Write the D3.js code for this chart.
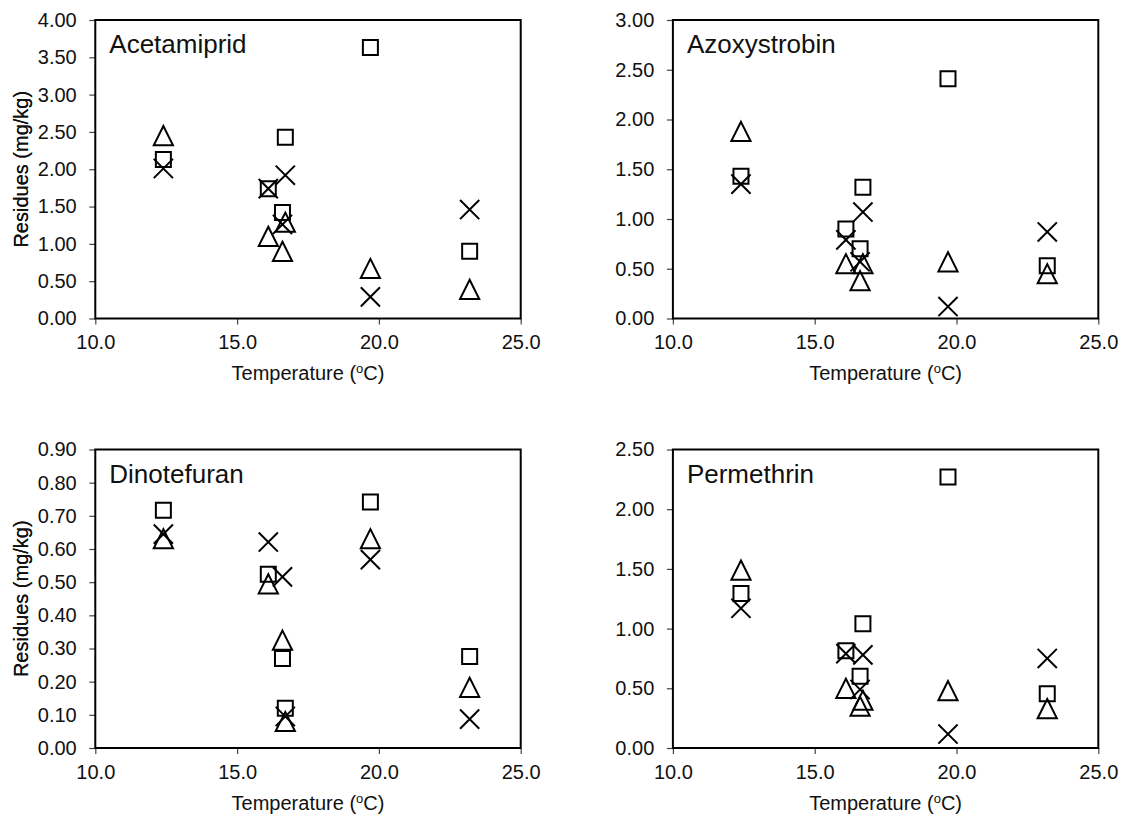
<!DOCTYPE html>
<html>
<head>
<meta charset="utf-8">
<script src="https://cdn.jsdelivr.net/npm/d3@7"></script>
<style>
  html, body { margin: 0; padding: 0; background: #fff; }
  svg { display: block; font-family: "Liberation Sans", Arial, sans-serif; }
</style>
</head>
<body>
<svg id="chart" width="1128" height="819"></svg>
<script>
// Sampling temperatures (°C) shared by every panel
const temperatures = [12.4, 16.1, 16.6, 16.7, 19.7, 23.2];

// Residues (mg/kg) per compound; three sample series each (square, cross, triangle markers)
const acetamipridSquare   = [2.13, 1.74, 1.42, 2.43, 3.63, 0.90];
const acetamipridCross    = [2.01, 1.74, 1.26, 1.92, 0.29, 1.46];
const acetamipridTriangle = [2.45, 1.10, 0.90, 1.29, 0.67, 0.39];

const azoxystrobinSquare   = [1.43, 0.90, 0.70, 1.32, 2.41, 0.53];
const azoxystrobinCross    = [1.35, 0.79, 0.57, 1.07, 0.12, 0.87];
const azoxystrobinTriangle = [1.88, 0.55, 0.38, 0.55, 0.57, 0.45];

const dinotefuranSquare   = [0.717, 0.524, 0.27, 0.12, 0.742, 0.276];
const dinotefuranCross    = [0.645, 0.621, 0.516, 0.095, 0.568, 0.087];
const dinotefuranTriangle = [0.631, 0.495, 0.325, 0.08, 0.631, 0.183];

const permethrinSquare   = [1.295, 0.815, 0.60, 1.04, 2.27, 0.454];
const permethrinCross    = [1.17, 0.79, 0.49, 0.78, 0.117, 0.75];
const permethrinTriangle = [1.49, 0.50, 0.35, 0.40, 0.48, 0.33];

// Axis ranges and tick values
const xDomain = [10, 25];
const xTicks = [10, 15, 20, 25];
const compounds = ["Acetamiprid", "Azoxystrobin", "Dinotefuran", "Permethrin"];
const yMaxima = [4.0, 3.0, 0.9, 2.5];
const yTickSteps = [0.5, 0.5, 0.1, 0.5];
const xAxisTitle = "Temperature (";
const yAxisTitle = "Residues (mg/kg)";

const panelData = [
  [acetamipridSquare, acetamipridCross, acetamipridTriangle],
  [azoxystrobinSquare, azoxystrobinCross, azoxystrobinTriangle],
  [dinotefuranSquare, dinotefuranCross, dinotefuranTriangle],
  [permethrinSquare, permethrinCross, permethrinTriangle]
];

// ---- layout ----
const plotW = 425.4, plotH = 298.5;
const lefts = [95.3, 672.9];
const tops = [20, 449.5];
const svg = d3.select("#chart");

function markerPath(kind) {
  if (kind === 0) { const s = 7.5; return `M${-s},${-s}H${s}V${s}H${-s}Z`; }
  if (kind === 1) { const s = 9.6; return `M${-s},${-s}L${s},${s}M${-s},${s}L${s},${-s}`; }
  const h = 9.6; return `M0,${-h}L${h},${h}L${-h},${h}Z`;
}

compounds.forEach((name, i) => {
  const x0 = lefts[i % 2], y0 = tops[Math.floor(i / 2)];
  const g = svg.append("g").attr("transform", `translate(${x0},${y0})`);

  const x = d3.scaleLinear().domain(xDomain).range([0, plotW]);
  const y = d3.scaleLinear().domain([0, yMaxima[i]]).range([plotH, 0]);
  const yTicks = d3.range(0, yMaxima[i] + 1e-9, yTickSteps[i]);

  // axes
  const yAxis = g.append("g")
    .call(d3.axisLeft(y).tickValues(yTicks).tickFormat(d3.format(".2f")).tickSize(6).tickPadding(12.6));
  const xAxis = g.append("g").attr("transform", `translate(0,${plotH})`)
    .call(d3.axisBottom(x).tickValues(xTicks).tickFormat(d3.format(".1f")).tickSize(6).tickPadding(10.5));
  [xAxis, yAxis].forEach(a => {
    a.select(".domain").remove();
    a.selectAll(".tick line").attr("stroke", "#444").attr("stroke-width", 1.2);
    a.selectAll(".tick text").attr("fill", "#111").style("font-size", "20px")
      .style("font-family", "'Liberation Sans', Arial, sans-serif");
  });

  // frame
  g.append("rect").attr("x", 0).attr("y", 0).attr("width", plotW).attr("height", plotH)
    .attr("fill", "none").attr("stroke", "#000").attr("stroke-width", 2);

  // panel title
  g.append("text").attr("x", 14).attr("y", 33).text(name)
    .attr("fill", "#111").style("font-size", "26px");

  // axis titles
  const xt = g.append("text").attr("x", plotW / 2).attr("y", plotH + 61.5)
    .attr("text-anchor", "middle").attr("fill", "#111").style("font-size", "20px");
  xt.append("tspan").text(xAxisTitle);
  xt.append("tspan").text("o").style("font-size", "13px").attr("dy", -7);
  xt.append("tspan").text("C)").attr("dy", 7);

  g.append("text")
    .attr("transform", `translate(${27.5 - x0},${plotH / 2}) rotate(-90)`)
    .attr("text-anchor", "middle").attr("fill", "#111").style("font-size", "20px")
    .text(yAxisTitle);

  // markers
  panelData[i].forEach((series, k) => {
    g.append("g").selectAll("path").data(series).join("path")
      .attr("transform", (v, j) => `translate(${x(temperatures[j])},${y(v)})`)
      .attr("d", markerPath(k))
      .attr("fill", "none").attr("stroke", "#000").attr("stroke-width", 2)
      .attr("stroke-linejoin", "miter");
  });
});
</script>
</body>
</html>
